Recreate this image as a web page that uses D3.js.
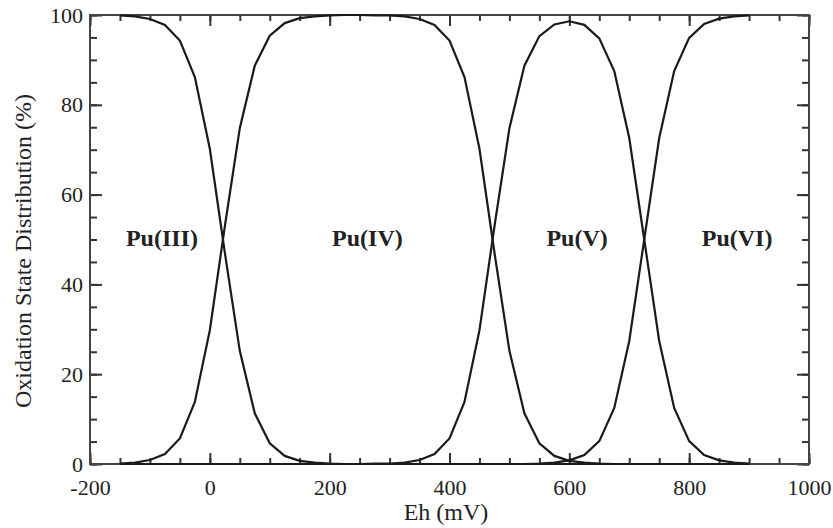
<!DOCTYPE html>
<html>
<head>
<meta charset="utf-8">
<script src="https://cdn.jsdelivr.net/npm/d3@7"></script>
<style>
  body { margin: 0; background: #fff; }
  text { font-family: "Liberation Serif", "Times New Roman", serif; fill: #222; }
</style>
</head>
<body>
<div id="chart"></div>
<script>
// Eh in mV, read every 25 mV
var eh = [-150, -125, -100, -75, -50, -25, 0, 25, 50, 75, 100, 125, 150, 175, 200,
          225, 250, 275, 300, 325, 350, 375, 400, 425, 450, 475, 500, 525, 550, 575,
          600, 625, 650, 675, 700, 725, 750, 775, 800, 825, 850, 875, 900];

// distribution (%) of each oxidation state at those Eh values
var pu3 = [99.9, 99.7, 99.1, 97.8, 94.3, 86.2, 70.2, 47.1, 25.2, 11.3, 4.6, 1.8, 0.7, 0.3, 0.1,
           0, 0, 0, 0, 0, 0, 0, 0, 0, 0, 0, 0, 0, 0, 0,
           0, 0, 0, 0, 0, 0, 0, 0, 0, 0, 0, 0, 0];
var pu4 = [0.1, 0.3, 0.9, 2.2, 5.7, 13.8, 29.8, 52.9, 74.8, 88.7, 95.4, 98.2, 99.3, 99.7, 99.9,
           100, 100, 99.9, 99.9, 99.7, 99.1, 97.8, 94.3, 86.2, 70.2, 47.1, 25.2, 11.3, 4.6, 1.8,
           0.7, 0.3, 0.1, 0, 0, 0, 0, 0, 0, 0, 0, 0, 0];
var pu5 = [0, 0, 0, 0, 0, 0, 0, 0, 0, 0, 0, 0, 0, 0, 0,
           0, 0, 0.1, 0.1, 0.3, 0.9, 2.2, 5.7, 13.8, 29.8, 52.9, 74.8, 88.7, 95.3, 97.9,
           98.6, 97.8, 94.8, 87.5, 72.6, 50, 27.4, 12.5, 5.1, 2.0, 0.8, 0.3, 0.1];
var pu6 = [0, 0, 0, 0, 0, 0, 0, 0, 0, 0, 0, 0, 0, 0, 0,
           0, 0, 0, 0, 0, 0, 0, 0, 0, 0, 0, 0, 0, 0.1, 0.3,
           0.8, 2.0, 5.1, 12.5, 27.4, 50, 72.6, 87.5, 94.9, 98.0, 99.2, 99.7, 99.9];

var stateNames = ["Pu(III)", "Pu(IV)", "Pu(V)", "Pu(VI)"];
var stateLabelEh = [-80, 263, 613, 880];

var xTicks = [-200, 0, 200, 400, 600, 800, 1000];
var yTicks = [0, 20, 40, 60, 80, 100];

function init() {
    var w = 833, h = 528;
    var mLeft = 90, mRight = 809, mTop = 15, mBottom = 464;

    var svg = d3.select("#chart").append("svg")
        .attr("width", w)
        .attr("height", h);

    var xScale = d3.scaleLinear().domain([-200, 1000]).range([mLeft, mRight]);
    var yScale = d3.scaleLinear().domain([0, 100]).range([mBottom, mTop]);

    var minorX = d3.range(-200, 1001, 50);
    var minorY = d3.range(0, 101, 5);
    var plain = function (d) { return String(d); };

    function styleAxis(g) {
        g.select(".domain").remove();
        g.selectAll("line").attr("stroke", "#333").attr("stroke-width", 2);
        g.selectAll("text")
            .style("font-family", "'Liberation Serif', serif")
            .style("font-size", "22px")
            .attr("fill", "#222");
    }

    // minor ticks on all four sides
    svg.append("g").attr("transform", "translate(0," + mBottom + ")")
        .call(d3.axisBottom(xScale).tickValues(minorX).tickSize(-6).tickFormat(""))
        .call(styleAxis);
    svg.append("g").attr("transform", "translate(0," + mTop + ")")
        .call(d3.axisTop(xScale).tickValues(minorX).tickSize(-6).tickFormat(""))
        .call(styleAxis);
    svg.append("g").attr("transform", "translate(" + mLeft + ",0)")
        .call(d3.axisLeft(yScale).tickValues(minorY).tickSize(-7).tickFormat(""))
        .call(styleAxis);
    svg.append("g").attr("transform", "translate(" + mRight + ",0)")
        .call(d3.axisRight(yScale).tickValues(minorY).tickSize(-7).tickFormat(""))
        .call(styleAxis);

    // major ticks with labels
    svg.append("g").attr("transform", "translate(0," + mBottom + ")")
        .call(d3.axisBottom(xScale).tickValues(xTicks).tickSize(-11).tickPadding(15).tickFormat(plain))
        .call(styleAxis);
    svg.append("g").attr("transform", "translate(0," + mTop + ")")
        .call(d3.axisTop(xScale).tickValues(xTicks).tickSize(-11).tickFormat(""))
        .call(styleAxis);
    svg.append("g").attr("transform", "translate(" + mLeft + ",0)")
        .call(d3.axisLeft(yScale).tickValues(yTicks).tickSize(-12).tickPadding(7).tickFormat(plain))
        .call(styleAxis);
    svg.append("g").attr("transform", "translate(" + mRight + ",0)")
        .call(d3.axisRight(yScale).tickValues(yTicks).tickSize(-12).tickFormat(""))
        .call(styleAxis);

    // frame
    svg.append("rect")
        .attr("x", mLeft).attr("y", mTop)
        .attr("width", mRight - mLeft).attr("height", mBottom - mTop)
        .attr("fill", "none")
        .attr("stroke", "#444")
        .attr("stroke-width", 2);

    var line = d3.line()
        .x(function (d, i) { return xScale(eh[i]); })
        .y(function (d) { return yScale(d); });

    [pu3, pu4, pu5, pu6].forEach(function (series) {
        svg.append("path")
            .datum(series)
            .attr("fill", "none")
            .attr("stroke", "#1a1a1a")
            .attr("stroke-width", 2.2)
            .attr("d", line);
    });

    // state labels
    svg.selectAll(".stateLabel")
        .data(stateNames)
        .enter().append("text")
        .attr("class", "stateLabel")
        .attr("x", function (d, i) { return xScale(stateLabelEh[i]); })
        .attr("y", yScale(48.5))
        .attr("text-anchor", "middle")
        .style("font-size", "24px")
        .style("font-weight", "bold")
        .text(function (d) { return d; });

    // axis titles
    svg.append("text")
        .attr("x", 446)
        .attr("y", 520)
        .attr("text-anchor", "middle")
        .style("font-size", "24px")
        .text("Eh (mV)");

    svg.append("text")
        .attr("transform", "translate(31,251) rotate(-90)")
        .attr("text-anchor", "middle")
        .style("font-size", "24px")
        .text("Oxidation State Distribution (%)");
}

window.onload = init;
</script>
</body>
</html>
